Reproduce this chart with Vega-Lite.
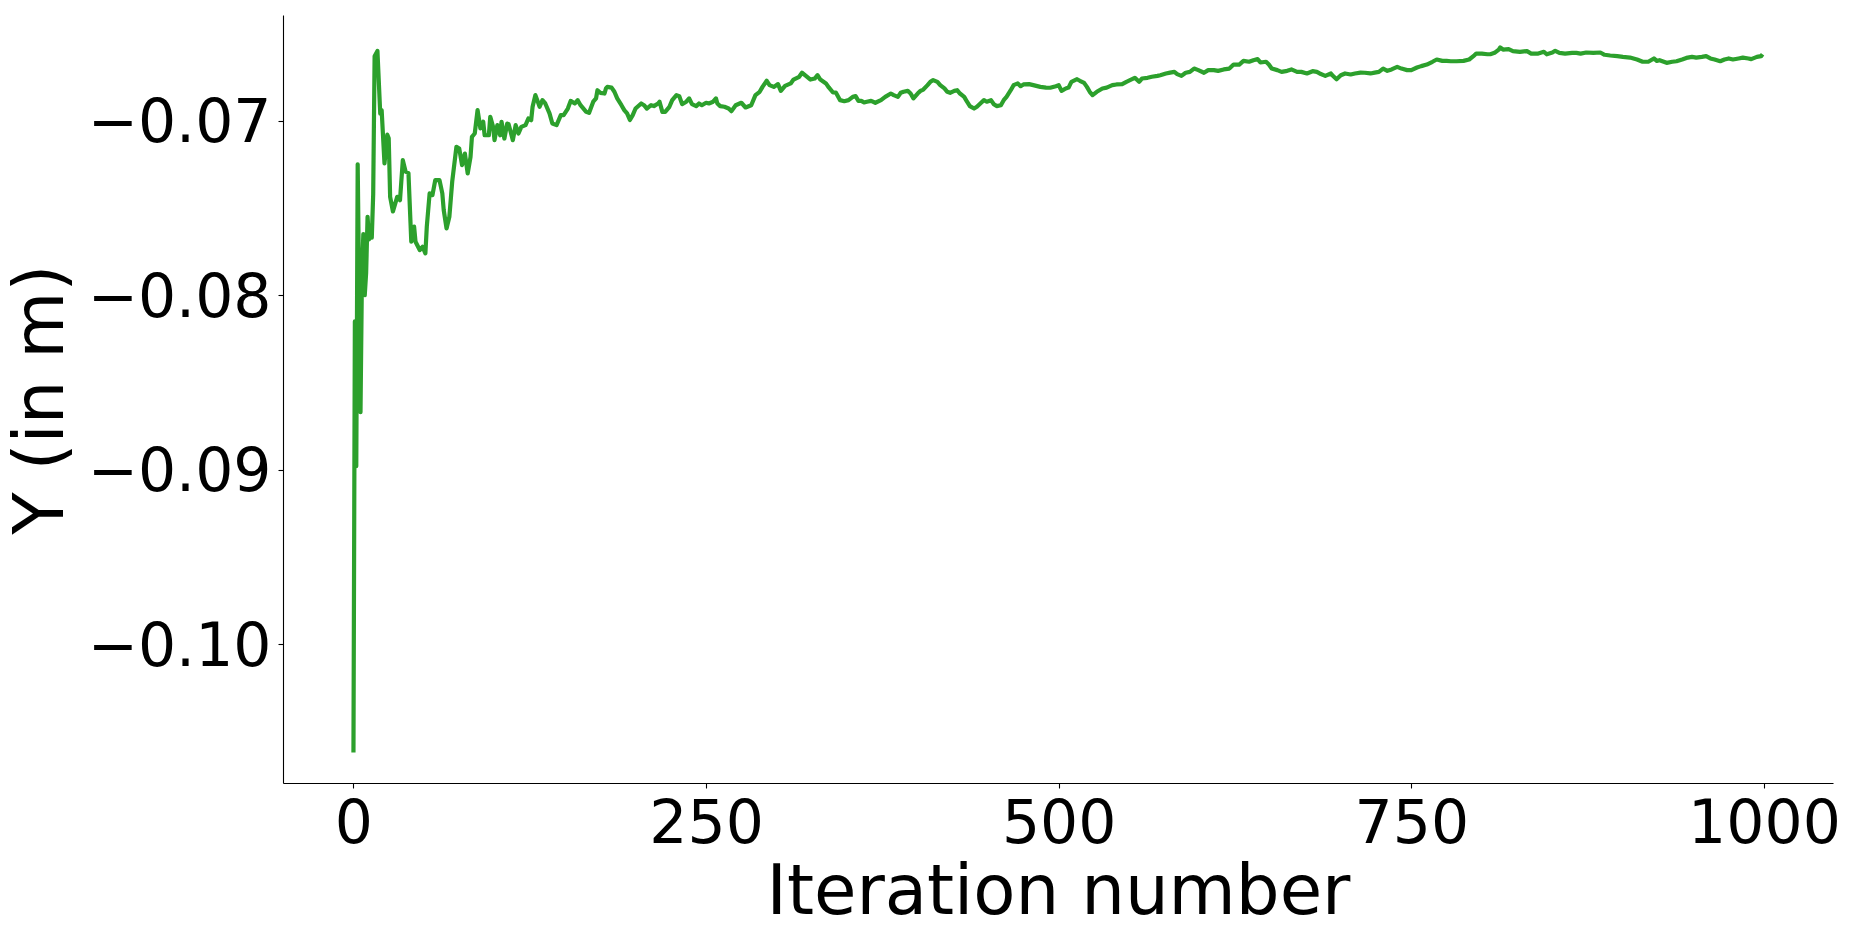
{
"$schema": "https://vega.github.io/schema/vega-lite/v6.json",
"autosize": {"type": "none"},
"padding": {"left": 283, "top": 15, "right": 21, "bottom": 152},
"width": 1550,
"height": 768,
"background": "white",
"config": {"view": {"stroke": null}, "font": "DejaVu Sans"},
"data": {"values": [
{"i":0,"y":-0.1062},{"i":1,"y":-0.0815},{"i":2,"y":-0.0898},{"i":3,"y":-0.0725},{"i":4,"y":-0.0795},{"i":5,"y":-0.0867},{"i":6,"y":-0.079},{"i":7,"y":-0.0765},{"i":8,"y":-0.08},{"i":9,"y":-0.0787},{"i":10,"y":-0.0755},{"i":11,"y":-0.0768},{"i":12,"y":-0.076},{"i":13,"y":-0.0767},{"i":14,"y":-0.0742},{"i":15,"y":-0.0663},{"i":17,"y":-0.066},{"i":19,"y":-0.0696},{"i":20,"y":-0.0694},{"i":22,"y":-0.07245},{"i":24,"y":-0.0708},{"i":25,"y":-0.071},{"i":26,"y":-0.07436},{"i":28,"y":-0.0752},{"i":31,"y":-0.07436},{"i":33,"y":-0.07455},{"i":35,"y":-0.07226},{"i":37,"y":-0.07292},{"i":39,"y":-0.073},{"i":41,"y":-0.07693},{"i":43,"y":-0.07607},{"i":44,"y":-0.07693},{"i":47,"y":-0.07741},{"i":49,"y":-0.07722},{"i":51,"y":-0.0776},{"i":52,"y":-0.07607},{"i":54,"y":-0.07416},{"i":56,"y":-0.07426},{"i":58,"y":-0.0734},{"i":61,"y":-0.0734},{"i":63,"y":-0.07416},{"i":64,"y":-0.07512},{"i":66,"y":-0.07617},{"i":68,"y":-0.0755},{"i":70,"y":-0.0735},{"i":73,"y":-0.07149},{"i":75,"y":-0.07159},{"i":77,"y":-0.07254},{"i":79,"y":-0.07188},{"i":81,"y":-0.07302},{"i":83,"y":-0.07207},{"i":84,"y":-0.07092},{"i":86,"y":-0.07073},{"i":88,"y":-0.06939},{"i":90,"y":-0.07044},{"i":92,"y":-0.07006},{"i":93,"y":-0.07083},{"i":96,"y":-0.07083},{"i":97,"y":-0.06977},{"i":99,"y":-0.07035},{"i":100,"y":-0.07111},{"i":102,"y":-0.07025},{"i":104,"y":-0.07083},{"i":105,"y":-0.07006},{"i":107,"y":-0.07102},{"i":109,"y":-0.07016},{"i":110,"y":-0.0702},{"i":113,"y":-0.07111},{"i":115,"y":-0.07025},{"i":117,"y":-0.07073},{"i":119,"y":-0.07035},{"i":122,"y":-0.07025},{"i":124,"y":-0.06987},{"i":126,"y":-0.06997},{"i":127,"y":-0.0692},{"i":129,"y":-0.06853},{"i":132,"y":-0.0692},{"i":134,"y":-0.06882},{"i":136,"y":-0.06901},{"i":139,"y":-0.06958},{"i":141,"y":-0.07016},{"i":144,"y":-0.07025},{"i":147,"y":-0.06968},{"i":149,"y":-0.06968},{"i":152,"y":-0.0693},{"i":154,"y":-0.06886},{"i":157,"y":-0.06901},{"i":159,"y":-0.06882},{"i":161,"y":-0.06911},{"i":165,"y":-0.06949},{"i":167,"y":-0.06955},{"i":170,"y":-0.06891},{"i":172,"y":-0.06872},{"i":173,"y":-0.06825},{"i":175,"y":-0.0684},{"i":178,"y":-0.06844},{"i":179,"y":-0.06815},{"i":180,"y":-0.06806},{"i":183,"y":-0.0681},{"i":185,"y":-0.06834},{"i":187,"y":-0.06872},{"i":190,"y":-0.06911},{"i":192,"y":-0.06939},{"i":194,"y":-0.06958},{"i":196,"y":-0.06996},{"i":198,"y":-0.06968},{"i":200,"y":-0.0693},{"i":204,"y":-0.06901},{"i":206,"y":-0.06911},{"i":208,"y":-0.0693},{"i":211,"y":-0.06911},{"i":213,"y":-0.06916},{"i":216,"y":-0.06901},{"i":217,"y":-0.06891},{"i":219,"y":-0.06949},{"i":221,"y":-0.06949},{"i":224,"y":-0.0692},{"i":226,"y":-0.06882},{"i":229,"y":-0.06853},{"i":231,"y":-0.06859},{"i":233,"y":-0.06905},{"i":236,"y":-0.06891},{"i":238,"y":-0.06872},{"i":240,"y":-0.06905},{"i":243,"y":-0.06916},{"i":245,"y":-0.06901},{"i":247,"y":-0.06911},{"i":250,"y":-0.06897},{"i":252,"y":-0.06901},{"i":255,"y":-0.06891},{"i":257,"y":-0.06872},{"i":258,"y":-0.06901},{"i":260,"y":-0.06916},{"i":263,"y":-0.0692},{"i":266,"y":-0.0693},{"i":268,"y":-0.06945},{"i":271,"y":-0.06911},{"i":275,"y":-0.06897},{"i":278,"y":-0.06924},{"i":282,"y":-0.06911},{"i":285,"y":-0.06853},{"i":288,"y":-0.06834},{"i":290,"y":-0.06806},{"i":293,"y":-0.06771},{"i":295,"y":-0.06796},{"i":298,"y":-0.06806},{"i":301,"y":-0.0679},{"i":303,"y":-0.06829},{"i":306,"y":-0.068},{"i":310,"y":-0.06786},{"i":312,"y":-0.06764},{"i":316,"y":-0.06748},{"i":318,"y":-0.06725},{"i":321,"y":-0.06744},{"i":324,"y":-0.06764},{"i":327,"y":-0.06758},{"i":329,"y":-0.06739},{"i":331,"y":-0.06764},{"i":335,"y":-0.06786},{"i":337,"y":-0.06809},{"i":340,"y":-0.06838},{"i":342,"y":-0.06838},{"i":345,"y":-0.06882},{"i":348,"y":-0.06888},{"i":351,"y":-0.06882},{"i":354,"y":-0.06863},{"i":356,"y":-0.06859},{"i":358,"y":-0.06886},{"i":360,"y":-0.06886},{"i":362,"y":-0.06895},{"i":364,"y":-0.06891},{"i":367,"y":-0.06886},{"i":370,"y":-0.06897},{"i":374,"y":-0.06882},{"i":377,"y":-0.06863},{"i":381,"y":-0.06844},{"i":383,"y":-0.06853},{"i":386,"y":-0.06863},{"i":388,"y":-0.0684},{"i":390,"y":-0.06834},{"i":393,"y":-0.06829},{"i":395,"y":-0.06844},{"i":397,"y":-0.06872},{"i":400,"y":-0.06844},{"i":402,"y":-0.06829},{"i":404,"y":-0.06821},{"i":407,"y":-0.06796},{"i":409,"y":-0.06777},{"i":411,"y":-0.06767},{"i":414,"y":-0.06777},{"i":416,"y":-0.06796},{"i":419,"y":-0.06815},{"i":421,"y":-0.06834},{"i":423,"y":-0.0684},{"i":426,"y":-0.06829},{"i":428,"y":-0.06825},{"i":430,"y":-0.06844},{"i":433,"y":-0.06863},{"i":435,"y":-0.06891},{"i":437,"y":-0.06916},{"i":440,"y":-0.0693},{"i":442,"y":-0.0692},{"i":445,"y":-0.06897},{"i":447,"y":-0.06882},{"i":449,"y":-0.06891},{"i":452,"y":-0.06882},{"i":454,"y":-0.06905},{"i":456,"y":-0.06916},{"i":459,"y":-0.06911},{"i":461,"y":-0.06882},{"i":463,"y":-0.06863},{"i":466,"y":-0.06825},{"i":468,"y":-0.06796},{"i":471,"y":-0.06786},{"i":473,"y":-0.06802},{"i":475,"y":-0.06792},{"i":479,"y":-0.0679},{"i":482,"y":-0.06796},{"i":487,"y":-0.06806},{"i":491,"y":-0.0681},{"i":494,"y":-0.06811},{"i":498,"y":-0.06802},{"i":500,"y":-0.06796},{"i":502,"y":-0.06829},{"i":505,"y":-0.06815},{"i":507,"y":-0.0681},{"i":509,"y":-0.06777},{"i":513,"y":-0.06762},{"i":515,"y":-0.06771},{"i":518,"y":-0.06783},{"i":520,"y":-0.06806},{"i":522,"y":-0.06834},{"i":524,"y":-0.06853},{"i":527,"y":-0.06834},{"i":531,"y":-0.06815},{"i":534,"y":-0.0681},{"i":538,"y":-0.06796},{"i":541,"y":-0.06792},{"i":545,"y":-0.0679},{"i":548,"y":-0.06777},{"i":552,"y":-0.06762},{"i":554,"y":-0.06754},{"i":557,"y":-0.06777},{"i":559,"y":-0.06758},{"i":563,"y":-0.06754},{"i":566,"y":-0.06748},{"i":570,"y":-0.06743},{"i":572,"y":-0.06739},{"i":576,"y":-0.06729},{"i":579,"y":-0.06724},{"i":582,"y":-0.0672},{"i":584,"y":-0.06733},{"i":587,"y":-0.06743},{"i":590,"y":-0.06725},{"i":593,"y":-0.0672},{"i":596,"y":-0.06701},{"i":599,"y":-0.0671},{"i":603,"y":-0.06725},{"i":606,"y":-0.0671},{"i":610,"y":-0.0671},{"i":613,"y":-0.06714},{"i":617,"y":-0.06706},{"i":621,"y":-0.06701},{"i":624,"y":-0.06678},{"i":628,"y":-0.06678},{"i":631,"y":-0.06657},{"i":635,"y":-0.06662},{"i":638,"y":-0.06653},{"i":641,"y":-0.06647},{"i":643,"y":-0.06666},{"i":647,"y":-0.06662},{"i":649,"y":-0.06678},{"i":651,"y":-0.06701},{"i":655,"y":-0.0671},{"i":658,"y":-0.0672},{"i":662,"y":-0.06714},{"i":665,"y":-0.06706},{"i":669,"y":-0.0672},{"i":672,"y":-0.0672},{"i":676,"y":-0.06729},{"i":680,"y":-0.06716},{"i":683,"y":-0.0672},{"i":685,"y":-0.06729},{"i":689,"y":-0.06743},{"i":693,"y":-0.06729},{"i":694,"y":-0.06739},{"i":697,"y":-0.06762},{"i":700,"y":-0.06739},{"i":703,"y":-0.06729},{"i":707,"y":-0.06735},{"i":710,"y":-0.06729},{"i":714,"y":-0.06724},{"i":717,"y":-0.06725},{"i":721,"y":-0.06729},{"i":724,"y":-0.06724},{"i":727,"y":-0.0672},{"i":730,"y":-0.06701},{"i":733,"y":-0.06714},{"i":736,"y":-0.06706},{"i":740,"y":-0.06691},{"i":743,"y":-0.06701},{"i":747,"y":-0.0671},{"i":750,"y":-0.0671},{"i":754,"y":-0.06695},{"i":757,"y":-0.06687},{"i":761,"y":-0.06678},{"i":765,"y":-0.06662},{"i":768,"y":-0.06649},{"i":772,"y":-0.06657},{"i":775,"y":-0.06657},{"i":778,"y":-0.06659},{"i":782,"y":-0.06659},{"i":787,"y":-0.06657},{"i":791,"y":-0.06649},{"i":794,"y":-0.0663},{"i":796,"y":-0.06615},{"i":800,"y":-0.06615},{"i":804,"y":-0.06619},{"i":806,"y":-0.06619},{"i":809,"y":-0.06611},{"i":812,"y":-0.06592},{"i":813,"y":-0.0658},{"i":815,"y":-0.06592},{"i":819,"y":-0.0659},{"i":822,"y":-0.06601},{"i":827,"y":-0.06605},{"i":832,"y":-0.06601},{"i":835,"y":-0.06615},{"i":840,"y":-0.06615},{"i":844,"y":-0.06605},{"i":846,"y":-0.06619},{"i":850,"y":-0.06609},{"i":852,"y":-0.06599},{"i":855,"y":-0.06611},{"i":859,"y":-0.06615},{"i":864,"y":-0.06611},{"i":867,"y":-0.06611},{"i":870,"y":-0.06615},{"i":874,"y":-0.06609},{"i":879,"y":-0.06611},{"i":884,"y":-0.06609},{"i":887,"y":-0.06622},{"i":891,"y":-0.06626},{"i":896,"y":-0.0663},{"i":900,"y":-0.06634},{"i":905,"y":-0.06638},{"i":910,"y":-0.06649},{"i":914,"y":-0.06662},{"i":918,"y":-0.06662},{"i":922,"y":-0.06643},{"i":924,"y":-0.06657},{"i":926,"y":-0.06653},{"i":929,"y":-0.06662},{"i":931,"y":-0.06668},{"i":935,"y":-0.06662},{"i":938,"y":-0.06659},{"i":942,"y":-0.06649},{"i":945,"y":-0.0664},{"i":949,"y":-0.06634},{"i":952,"y":-0.06638},{"i":956,"y":-0.06634},{"i":959,"y":-0.0663},{"i":962,"y":-0.06643},{"i":965,"y":-0.06649},{"i":969,"y":-0.06659},{"i":972,"y":-0.06649},{"i":975,"y":-0.06643},{"i":978,"y":-0.06649},{"i":982,"y":-0.06643},{"i":985,"y":-0.06638},{"i":989,"y":-0.06643},{"i":991,"y":-0.06647},{"i":995,"y":-0.06634},{"i":998,"y":-0.0663},{"i":999,"y":-0.06619}
]},
"mark": {"type": "line", "color": "#2ca02c", "strokeWidth": 4.2, "strokeJoin": "round", "strokeCap": "butt", "clip": true},
"encoding": {
"x": {"field": "i", "type": "quantitative",
 "scale": {"domain": [-49.95, 1048.95], "nice": false, "zero": false},
 "axis": {"title": "Iteration number", "values": [0, 250, 500, 750, 1000], "format": "d", "grid": false,
  "domainColor": "black", "domainWidth": 1.1, "tickColor": "black", "tickWidth": 1.1, "tickSize": 5,
  "labelFont": "DejaVu Sans", "labelFontSize": 60, "labelColor": "black", "labelPadding": 7, "labelFlush": false, "labelOverlap": false, "labelLimit": 0,
  "titleFont": "DejaVu Sans", "titleFontSize": 69, "titleFontWeight": "normal", "titleColor": "black", "titleBaseline": "alphabetic", "titleY": 130, "titleLimit": 0}},
"y": {"field": "y", "type": "quantitative",
 "scale": {"domain": [-0.10795, -0.06394], "nice": false, "zero": false},
 "axis": {"title": "Y (in m)", "values": [-0.10, -0.09, -0.08, -0.07], "format": ".2f", "grid": false,
  "domainColor": "black", "domainWidth": 1.1, "tickColor": "black", "tickWidth": 1.1, "tickSize": 5,
  "labelFont": "DejaVu Sans", "labelFontSize": 60, "labelColor": "black", "labelPadding": 7, "labelOffset": 3, "labelFlush": false, "labelOverlap": false, "labelLimit": 0,
  "titleFont": "DejaVu Sans", "titleFontSize": 69, "titleFontWeight": "normal", "titleColor": "black", "titleBaseline": "alphabetic", "titleX": -221, "titleLimit": 0}}
}
}
